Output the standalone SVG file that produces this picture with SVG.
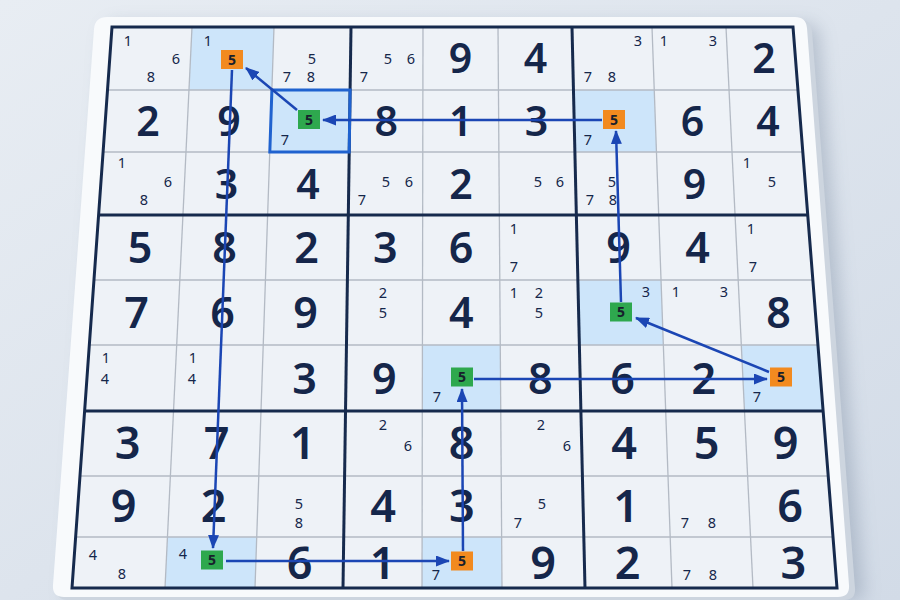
<svg xmlns="http://www.w3.org/2000/svg" width="900" height="600" viewBox="0 0 900 600">
<defs>
<linearGradient id="bg" x1="0" y1="0" x2="1" y2="1">
<stop offset="0" stop-color="#e8edf3"/>
<stop offset="1" stop-color="#d2dbe7"/>
</linearGradient>
<filter id="sh" x="-10%" y="-10%" width="130%" height="130%"><feGaussianBlur stdDeviation="9"/></filter>
<marker id="ah" viewBox="0 0 14 11" refX="13" refY="5.5" markerWidth="14" markerHeight="11" markerUnits="userSpaceOnUse" orient="auto">
<path d="M0,0 L14,5.5 L0,11 Z" fill="#1b46b4"/>
</marker>
<style>
.g{font-family:"Noto Sans","DejaVu Sans",sans-serif;font-weight:600;fill:#15264a;text-anchor:middle}
.g1{font-size:41px}.g2{font-size:43px}.g3{font-size:45px}
.c{font-family:"Noto Sans","DejaVu Sans",sans-serif;font-size:14.5px;font-weight:400;fill:#15264a;text-anchor:middle}
.bt{font-family:"Noto Sans","DejaVu Sans",sans-serif;font-size:14px;font-weight:700;fill:#17202c;text-anchor:middle}
.thin{stroke:#b3bac4;stroke-width:1.3;fill:none}
.thick{stroke:#162a4d;stroke-width:3;fill:none}
.hl{fill:#cde5fa}
.or{fill:#f28a1f}
.gr{fill:#2ea84e}
.arr{stroke:#1b46b4;stroke-width:2.5;fill:none;marker-end:url(#ah)}
</style>
</defs>
<rect width="900" height="600" fill="url(#bg)"/>
<g id="board">
<path d="M118,24 L806,24 Q818,24 819,36 L864,600 L66,600 L105,36 Q106,24 118,24 Z" fill="#6b7b93" opacity="0.35" filter="url(#sh)"/>
<path d="M112,20 L800,20 Q811,20 812,31 L855,588 Q856,600 844,600 L68,600 Q56,600 57,588 L99,31 Q100,20 112,20 Z" fill="#cdd5df"/>
<path d="M107,17 L795,17 Q806,17 807,28 L849,585 Q850,597 838,597 L64,597 Q52,597 53,585 L94,29 Q95,17 107,17 Z" fill="#f8fafc"/>
<polygon points="112,27 793,27 837,588 72,588" fill="#eef2f7"/>
</g>
<g id="highlights">
<polygon class="hl" points="192,27 274,27 271.9,90 189,90"/>
<polygon class="hl" points="271.9,90 350.1,90 349.2,152 269.8,152"/>
<polygon class="hl" points="573.5,90 654.2,90 656.5,152 574.9,152"/>
<polygon class="hl" points="577.9,280 661,280 663.3,345 579.4,345"/>
<polygon class="hl" points="422.4,345 500.3,345 500.7,411 422.3,411"/>
<polygon class="hl" points="741.3,345 818,345 823.1,411 744.5,411"/>
<polygon class="hl" points="167.5,537 256.7,537 255,588 165,588"/>
<polygon class="hl" points="422.1,537 501.6,537 502,588 422,588"/>
</g>
<g id="grid">
<line class="thin" x1="107.5" y1="90" x2="797.9" y2="90"/>
<line class="thin" x1="103.1" y1="152" x2="802.8" y2="152"/>
<line class="thin" x1="94" y1="280" x2="812.8" y2="280"/>
<line class="thin" x1="89.3" y1="345" x2="817.9" y2="345"/>
<line class="thin" x1="80" y1="476" x2="828.2" y2="476"/>
<line class="thin" x1="75.6" y1="537" x2="833" y2="537"/>
<line class="thin" x1="192" y1="27" x2="165" y2="588"/>
<line class="thin" x1="274" y1="27" x2="255" y2="588"/>
<line class="thin" x1="423" y1="27" x2="422" y2="588"/>
<line class="thin" x1="498" y1="27" x2="502" y2="588"/>
<line class="thin" x1="652" y1="27" x2="672" y2="588"/>
<line class="thin" x1="726" y1="27" x2="753" y2="588"/>
<line class="thick" x1="98.6" y1="215" x2="807.7" y2="215"/>
<line class="thick" x1="84.6" y1="411" x2="823.1" y2="411"/>
<line class="thick" x1="351" y1="27" x2="343" y2="588"/>
<line class="thick" x1="572" y1="27" x2="585" y2="588"/>
<polygon class="thick" points="112,27 793,27 837,588 72,588"/>
<polygon points="271.9,90 350.1,90 349.2,152 269.8,152" fill="none" stroke="#1f62cf" stroke-width="3"/>
</g>
<g id="givens" class="g">
<text class="g1" x="460.6" y="73.2">9</text><text class="g1" x="535.5" y="73.2">4</text><text class="g1" x="764" y="73.2">2</text>
<text class="g1" x="148" y="135.9">2</text><text class="g1" x="229" y="135.9">9</text><text class="g1" x="386.2" y="135.9">8</text><text class="g1" x="460.8" y="135.9">1</text><text class="g1" x="536.4" y="135.9">3</text><text class="g1" x="692.5" y="135.9">6</text><text class="g1" x="768" y="135.9">4</text>
<text class="g1" x="226.6" y="198.5">3</text><text class="g1" x="308" y="198.5">4</text><text class="g1" x="460.9" y="198.5">2</text><text class="g1" x="694.5" y="198.5">9</text>
<text class="g2" x="140" y="262.7">5</text><text class="g2" x="224.5" y="262.7">8</text><text class="g2" x="306.5" y="262.7">2</text><text class="g2" x="385.2" y="262.7">3</text><text class="g2" x="461.1" y="262.7">6</text><text class="g2" x="618.5" y="262.7">9</text><text class="g2" x="697.5" y="262.7">4</text>
<text class="g2" x="136.5" y="327.9">7</text><text class="g2" x="222.5" y="327.9">6</text><text class="g2" x="305.6" y="327.9">9</text><text class="g2" x="461.3" y="327.9">4</text><text class="g2" x="778.5" y="327.9">8</text>
<text class="g2" x="304.5" y="393.5">3</text><text class="g2" x="384.2" y="393.5">9</text><text class="g2" x="540.3" y="393.5">8</text><text class="g2" x="622.5" y="393.5">6</text><text class="g2" x="703.7" y="393.5">2</text>
<text class="g3" x="127.5" y="459.2">3</text><text class="g3" x="216.5" y="459.2">7</text><text class="g3" x="302.5" y="459.2">1</text><text class="g3" x="461.6" y="459.2">8</text><text class="g3" x="624" y="459.2">4</text><text class="g3" x="706.5" y="459.2">5</text><text class="g3" x="785.5" y="459.2">9</text>
<text class="g3" x="123.5" y="522.4">9</text><text class="g3" x="213.5" y="522.4">2</text><text class="g3" x="383" y="522.4">4</text><text class="g3" x="461.8" y="522.4">3</text><text class="g3" x="626.1" y="522.4">1</text><text class="g3" x="790" y="522.4">6</text>
<text class="g3" x="299.6" y="578.5">6</text><text class="g3" x="382.7" y="578.5">1</text><text class="g3" x="543.1" y="578.5">9</text><text class="g3" x="627.7" y="578.5">2</text><text class="g3" x="793.3" y="578.5">3</text>
</g>
<g id="candidates" class="c">
<text x="128" y="46.3">1</text><text x="176" y="64.3">6</text><text x="151" y="82.3">8</text>
<text x="208" y="46.3">1</text>
<text x="312" y="64.3">5</text><text x="287" y="82.3">7</text><text x="311" y="82.3">8</text>
<text x="388" y="64.3">5</text><text x="411" y="64.3">6</text><text x="364" y="82.3">7</text>
<text x="638" y="46.3">3</text><text x="588" y="82.3">7</text><text x="612" y="82.3">8</text>
<text x="664" y="46.3">1</text><text x="713" y="46.3">3</text>
<text x="285" y="145.3">7</text>
<text x="588" y="144.5">7</text>
<text x="122" y="168.3">1</text><text x="168" y="187.3">6</text><text x="144" y="205.3">8</text>
<text x="386" y="187.3">5</text><text x="409" y="187.3">6</text><text x="362" y="205.3">7</text>
<text x="538" y="187.3">5</text><text x="560" y="187.3">6</text>
<text x="612" y="186.8">5</text><text x="590" y="204.8">7</text><text x="613" y="204.8">8</text>
<text x="747" y="168.3">1</text><text x="772" y="187.3">5</text>
<text x="514" y="234.3">1</text><text x="514" y="272.3">7</text>
<text x="751" y="234.3">1</text><text x="753" y="272.3">7</text>
<text x="383" y="298">2</text><text x="383" y="317.5">5</text>
<text x="514" y="298">1</text><text x="539" y="298">2</text><text x="539" y="317.5">5</text>
<text x="646" y="297.3">3</text>
<text x="676" y="297.3">1</text><text x="724" y="297.3">3</text>
<text x="106" y="363.3">1</text><text x="105" y="384.3">4</text>
<text x="193" y="363.3">1</text><text x="192" y="384.3">4</text>
<text x="437" y="402.3">7</text>
<text x="757" y="402.3">7</text>
<text x="383" y="430.3">2</text><text x="408" y="451.3">6</text>
<text x="541" y="430.3">2</text><text x="567" y="451.3">6</text>
<text x="299" y="508.5">5</text><text x="299" y="528.3">8</text>
<text x="542" y="508.5">5</text><text x="518" y="528.3">7</text>
<text x="685" y="528.3">7</text><text x="712" y="528.3">8</text>
<text x="93" y="560.3">4</text><text x="122" y="579.3">8</text>
<text x="183" y="559.3">4</text>
<text x="436" y="580.3">7</text>
<text x="687" y="580.3">7</text><text x="713" y="580.3">8</text>
</g>
<g id="connectors">
<line class="arr" x1="297" y1="110" x2="246" y2="68"/>
<line class="arr" x1="602" y1="120" x2="323" y2="120"/>
<line class="arr" x1="621" y1="302" x2="616" y2="131"/>
<line class="arr" x1="769" y1="372" x2="636" y2="318"/>
<line class="arr" x1="474" y1="379" x2="767" y2="379"/>
<line class="arr" x1="463" y1="551" x2="462" y2="389"/>
<line class="arr" x1="226" y1="561" x2="449" y2="561"/>
<line class="arr" x1="232" y1="70" x2="213" y2="548"/>
</g>
<g id="n-r1c2"><rect class="or" x="221" y="50" width="22" height="19"/><text class="bt" x="232" y="64.5">5</text></g>
<g id="n-r2c3"><rect class="gr" x="298" y="110" width="22" height="19"/><text class="bt" x="309" y="124.5">5</text></g>
<g id="n-r2c7"><rect class="or" x="603" y="110" width="22" height="19"/><text class="bt" x="614" y="124.5">5</text></g>
<g id="n-r5c7"><rect class="gr" x="610" y="302.5" width="22" height="19"/><text class="bt" x="621" y="317">5</text></g>
<g id="n-r6c9"><rect class="or" x="770" y="367.5" width="22" height="19"/><text class="bt" x="781" y="382">5</text></g>
<g id="n-r6c5"><rect class="gr" x="451" y="367.5" width="22" height="19"/><text class="bt" x="462" y="382">5</text></g>
<g id="n-r9c5"><rect class="or" x="451" y="551.5" width="22" height="19"/><text class="bt" x="462" y="566">5</text></g>
<g id="n-r9c2"><rect class="gr" x="201" y="550.5" width="22" height="19"/><text class="bt" x="212" y="565">5</text></g>
</svg>
